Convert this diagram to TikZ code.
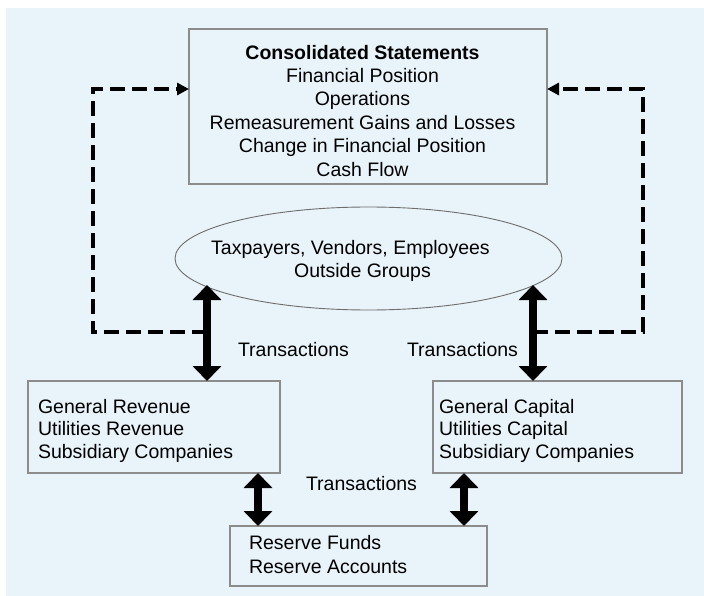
\documentclass[tikz,border=0pt]{standalone}
\usepackage{fontspec}
\setmainfont{Liberation Sans}
\usetikzlibrary{arrows.meta,shapes.geometric}
\definecolor{paper}{HTML}{E8F3FA}
\definecolor{frame}{HTML}{8C8C8C}
\definecolor{rim}{HTML}{6E6E6E}

\begin{document}
\begin{tikzpicture}[x=1pt,y=-1pt,
  every node/.style={inner sep=0pt, outer sep=0pt},
  txt/.style={font=\fontsize{19.5}{#1}\selectfont},
  txt/.default=23,
  panel/.style={draw=frame, line width=1.1pt, rectangle},
  flow/.style={line width=8pt,
    {Triangle[length=15pt,width=28pt]}-{Triangle[length=15pt,width=28pt]}},
  feedback/.style={line width=3.3pt, dash pattern=on 15pt off 7pt,
    -{Triangle[length=12pt,width=12pt]}},
  tag/.style={txt, anchor=base}]

\useasboundingbox (0,0) rectangle (704,596);
\fill[paper] (6,8) rectangle (704,596);

% statements box
\node[panel, minimum width=358pt, minimum height=155pt] (stmt) at (368,106.5) {};
\node[txt=23.4, align=center, anchor=north] (stmttext) at (362.5,45)
  {\textbf{Consolidated Statements}\\Financial Position\\Operations\\
   Remeasurement Gains and Losses\\Change in Financial Position\\Cash Flow};

% outside parties
\node[draw=rim, line width=0.9pt, ellipse, minimum width=387pt, minimum height=103pt]
  (crowd) at (368.5,258.5) {};
\node[txt=23, align=center, anchor=north] (crowdtext) at (362.5,240)
  {Taxpayers, Vendors, Employees\kern24pt\\Outside Groups};

% fund groups
\node[panel, anchor=north west, minimum width=252pt, minimum height=92pt] (rev) at (28,381) {};
\node[txt=22.5, align=left, anchor=north west] (revtext) at (38,399)
  {General Revenue\\Utilities Revenue\\Subsidiary Companies};

\node[panel, anchor=north west, minimum width=249pt, minimum height=92pt] (cap) at (433,381) {};
\node[txt=22.5, align=left, anchor=north west] (captext) at (439,399)
  {General Capital\\Utilities Capital\\Subsidiary Companies};

\node[panel, anchor=north west, minimum width=257pt, minimum height=60pt] (res) at (230,526) {};
\node[txt=24, align=left, anchor=north west] (restext) at (249,535)
  {Reserve Funds\\Reserve Accounts};

% labels
\node[tag] (tl) at (293.5,356) {Transactions};
\node[tag] (tr) at (462.5,356) {Transactions};
\node[tag] (tm) at (361.5,490) {Transactions};

% connector anchors
\coordinate (ellL) at (207,285);
\coordinate (ellR) at (533,285);
\coordinate (jL) at (207,332);
\coordinate (jR) at (533,332);
\coordinate (cL) at (93,89);
\coordinate (cR) at (643,89);
\coordinate (lowL) at (258,500);
\coordinate (lowR) at (464,500);

% reporting feedback
\draw[feedback] (jL) -| (cL) -- (stmt.west |- cL);
\draw[feedback] (jR) -| (cR) -- (stmt.east |- cR);

% transactions
\draw[flow] (ellL) -- (rev.north -| ellL);
\draw[flow] (ellR) -- (cap.north -| ellR);
\draw[flow] (rev.south -| lowL) -- (res.north -| lowL);
\draw[flow] (cap.south -| lowR) -- (res.north -| lowR);
\end{tikzpicture}
\end{document}
